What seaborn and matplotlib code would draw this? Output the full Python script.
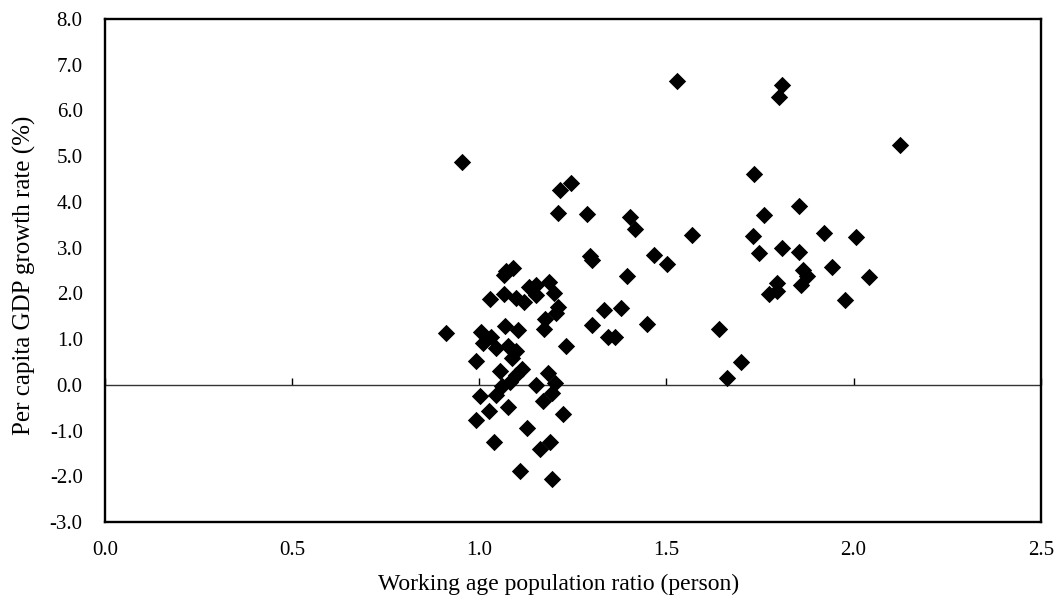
import matplotlib
matplotlib.use("Agg")
import matplotlib.pyplot as plt
import seaborn as sns
import pandas as pd

# Working age population ratio (person)
ratio = [
    0.955, 1.215, 1.246, 1.210, 1.287, 1.295, 1.300, 1.527, 1.809, 1.802,
    2.125, 1.734, 1.854, 1.761, 1.403, 1.417, 1.567, 1.730, 1.921, 2.007,
    1.748, 1.810, 1.854, 1.468, 1.502, 1.865, 1.875, 1.943, 2.041, 1.796,
    1.860, 1.773, 1.795, 1.976, 1.395, 1.333, 1.378, 1.449, 1.345, 1.362,
    1.640, 1.700, 1.661,
    1.065, 1.072, 1.090, 1.028, 1.065, 1.097, 1.119, 1.132, 1.151, 1.151,
    1.186, 1.199, 1.211, 1.204, 1.175, 1.172, 1.233, 1.300, 0.910, 1.068,
    1.104, 1.005, 1.010, 1.032, 1.046, 1.077, 1.097, 1.088, 0.990, 1.056,
    1.113, 1.099, 1.081, 1.062, 1.046, 1.001, 1.152, 1.184, 1.202, 1.193,
    1.171, 1.077, 1.025, 0.990, 1.224, 1.128, 1.039, 1.188, 1.162, 1.108,
    1.195,
]
# Per capita GDP growth rate (%)
growth = [
    4.88, 4.27, 4.42, 3.75, 3.73, 2.82, 2.73, 6.65, 6.56, 6.29,
    5.24, 4.62, 3.90, 3.71, 3.67, 3.40, 3.27, 3.26, 3.32, 3.23,
    2.88, 2.99, 2.91, 2.84, 2.65, 2.51, 2.38, 2.58, 2.36, 2.22,
    2.18, 1.99, 2.05, 1.85, 2.38, 1.64, 1.69, 1.33, 1.05, 1.04,
    1.21, 0.49, 0.15,
    2.40, 2.48, 2.56, 1.87, 1.98, 1.89, 1.82, 2.13, 2.18, 1.96,
    2.24, 2.01, 1.71, 1.56, 1.45, 1.22, 0.85, 1.31, 1.13, 1.29,
    1.20, 1.16, 0.92, 1.04, 0.80, 0.84, 0.74, 0.58, 0.53, 0.31,
    0.34, 0.22, 0.07, -0.02, -0.22, -0.25, 0.00, 0.25, 0.04, -0.17,
    -0.36, -0.49, -0.58, -0.78, -0.63, -0.95, -1.24, -1.24, -1.40, -1.89,
    -2.07,
]

x_ticks = [0.0, 0.5, 1.0, 1.5, 2.0, 2.5]
y_ticks = [-3.0, -2.0, -1.0, 0.0, 1.0, 2.0, 3.0, 4.0, 5.0, 6.0, 7.0, 8.0]

sns.set_style("white")
plt.rcParams["font.family"] = ["Liberation Serif", "DejaVu Serif"]
plt.rcParams["text.color"] = "black"
plt.rcParams["axes.labelcolor"] = "black"
plt.rcParams["xtick.color"] = "black"
plt.rcParams["ytick.color"] = "black"

df = pd.DataFrame({"ratio": ratio, "growth": growth})

fig = plt.figure(figsize=(10.58, 6.02), dpi=100)
ax = fig.add_axes([0.0992, 0.1329, 0.9837 - 0.0992, 0.9684 - 0.1329])

sns.scatterplot(data=df, x="ratio", y="growth", marker="D", s=78,
                color="black", edgecolor="black", linewidth=0, ax=ax,
                zorder=3)

ax.set_xlim(0.0, 2.5)
ax.set_ylim(-3.0, 8.0)
ax.set_xticks(x_ticks)
ax.set_xticklabels([f"{v:.1f}" for v in x_ticks])
ax.set_yticks(y_ticks)
ax.set_yticklabels([f"{v:.1f}" for v in y_ticks])

ax.axhline(0, color="#333333", linewidth=1.0, zorder=2)

for sp in ax.spines.values():
    sp.set_visible(True)
    sp.set_color("black")
    sp.set_linewidth(1.7)

ax.tick_params(axis="x", length=0, pad=14, labelsize=15,
               colors="black", labelcolor="black")
ax.tick_params(axis="y", direction="in", length=5, width=1, pad=16,
               labelsize=15, colors="black", labelcolor="black")

# x-axis ticks sit on the zero line, pointing up
sec = ax.secondary_xaxis(3.0 / 11.0)
sec.set_xticks(x_ticks)
sec.spines["bottom"].set_visible(False)
sec.tick_params(axis="x", direction="in", length=5, width=1,
                labelbottom=False, colors="black")

ax.set_xlabel("Working age population ratio (person)", fontsize=17,
              color="black")
ax.set_ylabel("Per capita GDP growth rate (%)", fontsize=18, color="black")
ax.xaxis.set_label_coords(0.4845, -0.104)
ax.yaxis.set_label_coords(-0.074, 0.491)

fig.savefig("out.png", dpi=100)
